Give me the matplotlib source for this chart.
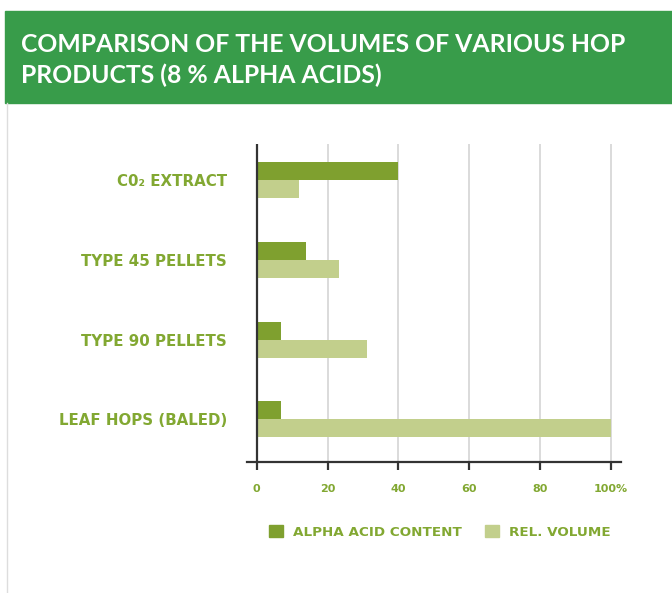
import numpy as np
import matplotlib
matplotlib.use("Agg")
import matplotlib.pyplot as plt
from matplotlib.patches import Rectangle, Patch
from matplotlib.lines import Line2D

# dados
categorias = ["C0\u2082 EXTRACT", "TYPE 45 PELLETS", "TYPE 90 PELLETS", "LEAF HOPS (BALED)"]
teor_alfa = [40, 14, 7, 7]
volume_rel = [12, 23.3, 31.2, 100]
ticks_x = [0, 20, 40, 60, 80, 100]
rotulos_x = ["0", "20", "40", "60", "80", "100%"]
titulo = "COMPARISON OF THE VOLUMES OF VARIOUS HOP\nPRODUCTS (8 % ALPHA ACIDS)"
legenda = ["ALPHA ACID CONTENT", "REL. VOLUME"]

verde_faixa = "#389c4a"
verde_escuro = "#7fa02f"
verde_claro = "#c2cf8c"
verde_texto = "#82a832"

W, H = 672, 593
fig = plt.figure(figsize=(W / 100, H / 100), dpi=100)

# faixa do titulo
fig.patches.append(Rectangle((5 / W, 1 - 103 / H), 1 - 5 / W, 92 / H,
                             transform=fig.transFigure, color=verde_faixa, zorder=0))
fig.lines.append(Line2D([6.5 / W, 6.5 / W], [0, 1 - 103 / H], transform=fig.transFigure,
                        color="#dddddd", lw=1))
fig.text(21 / W, 1 - 60 / H, titulo, color="white", fontsize=17.8, fontweight="bold",
         family="Lato", va="center", ha="left", linespacing=1.4)

# eixo
x0, x1 = 246.7, 620.7
ax = fig.add_axes([x0 / W, 1 - 462 / H, (x1 - x0) / W, 318 / H])
escala = 354 / 100
ax.set_xlim(-(256.7 - x0) / escala, 100 + (x1 - 610.7) / escala)

y = np.arange(len(categorias))
altura = 18 / 79.7
ax.barh(y - altura / 2, teor_alfa, height=altura, color=verde_escuro, zorder=3)
ax.barh(y + altura / 2, volume_rel, height=altura, color=verde_claro, zorder=3)
ax.set_ylim(3 + 42.7 / 79.7, -36.3 / 79.7)

for t in ticks_x[1:]:
    ax.axvline(t, color="#d4d4d4", lw=1.2, zorder=1)
ax.axvline(0, color="#333333", lw=1.6, zorder=4)

for lado in ["top", "right", "left"]:
    ax.spines[lado].set_visible(False)
ax.spines["bottom"].set_color("#333333")
ax.spines["bottom"].set_linewidth(1.6)

ax.set_xticks(ticks_x)
ax.set_xticklabels(rotulos_x, color=verde_texto, fontsize=8, fontweight="bold")
ax.tick_params(axis="x", direction="out", length=6, width=1.6, color="#333333", pad=10)
ax.set_yticks(y)
ax.set_yticklabels(categorias, color=verde_texto, fontsize=10.8, fontweight="bold")
ax.tick_params(axis="y", length=0, pad=14.2)

handles = [Patch(color=verde_escuro), Patch(color=verde_claro)]
fig.legend(handles, legenda, loc="center left", bbox_to_anchor=(257 / W, 1 - 532 / H),
           ncol=2, frameon=False, handlelength=1.0, handleheight=1.0, handletextpad=0.75,
           columnspacing=1.75, prop={"weight": "bold", "size": 9.7},
           labelcolor=verde_texto)

fig.savefig("out.png", dpi=100)
